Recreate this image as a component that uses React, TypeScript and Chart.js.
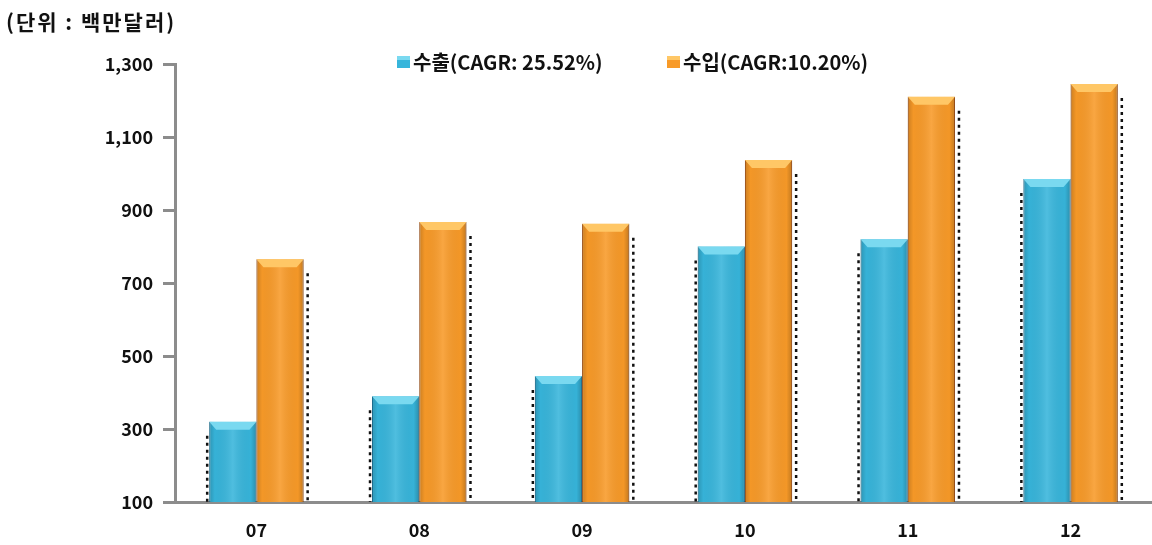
import React, { useEffect, useRef } from "react";
import { Chart, registerables } from "chart.js";

Chart.register(...registerables);

const categories = ["07", "08", "09", "10", "11", "12"];
const exportValues = [320, 390, 445, 800, 820, 985];
const importValues = [765, 867, 862, 1037, 1210, 1245];
const seriesLabels = ["수출(CAGR: 25.52%)", "수입(CAGR:10.20%)"];
const unitLabel = "(단위 : 백만달러)";
const yMin = 100;
const yMax = 1300;
const yStep = 200;

const FONT = "'Noto Sans CJK KR', 'Noto Sans', sans-serif";
const BLUE = "#37b5db";
const BLUE_TOP = "#7ad9f0";
const BLUE_EDGE = "#1d7ea6";
const ORANGE = "#f89a28";
const ORANGE_TOP = "#ffc766";
const ORANGE_EDGE = "#b5560f";
const AXIS = "#8c8c8c";

const decorPlugin = {
  id: "decor",
  afterDatasetsDraw(chart: any) {
    const ctx = chart.ctx;
    const area = chart.chartArea;
    chart.data.datasets.forEach((ds: any, di: number) => {
      const meta = chart.getDatasetMeta(di);
      meta.data.forEach((el: any) => {
        const w = el.width;
        const l = el.x - w / 2;
        const r = el.x + w / 2;
        const top = el.y;
        const base = Math.min(el.base, area.bottom);
        ctx.save();
        const g = ctx.createLinearGradient(l, 0, r, 0);
        g.addColorStop(0, "rgba(0,0,0,0.18)");
        g.addColorStop(0.12, "rgba(0,0,0,0.02)");
        g.addColorStop(0.5, "rgba(255,255,255,0.12)");
        g.addColorStop(0.88, "rgba(0,0,0,0.02)");
        g.addColorStop(1, "rgba(0,0,0,0.22)");
        ctx.fillStyle = g;
        ctx.fillRect(l, top, w, base - top);
        ctx.beginPath();
        ctx.moveTo(l, top);
        ctx.lineTo(r, top);
        ctx.lineTo(r - 7, top + 8);
        ctx.lineTo(l + 7, top + 8);
        ctx.closePath();
        ctx.fillStyle = di === 0 ? BLUE_TOP : ORANGE_TOP;
        ctx.fill();
        ctx.strokeStyle = "#111";
        ctx.lineWidth = 2.5;
        ctx.setLineDash([3, 4]);
        ctx.beginPath();
        if (di === 0) {
          ctx.moveTo(l - 2, top + 14);
          ctx.lineTo(l - 2, base);
        } else {
          ctx.moveTo(r + 4, top + 14);
          ctx.lineTo(r + 4, base);
        }
        ctx.stroke();
        ctx.restore();
      });
    });
  },
  afterDraw(chart: any) {
    const ctx = chart.ctx;
    const area = chart.chartArea;
    ctx.save();
    ctx.fillStyle = "#111";
    ctx.textBaseline = "middle";
    ctx.textAlign = "left";
    ctx.font = `bold 21px ${FONT}`;
    (ctx as any).letterSpacing = "2px";
    ctx.fillText(unitLabel, 6, 22);
    (ctx as any).letterSpacing = "0px";
    const starts = [area.left + 222, area.left + 492];
    const colors = [BLUE, ORANGE];
    const tops = [BLUE_TOP, ORANGE_TOP];
    chart.data.datasets.forEach((ds: any, i: number) => {
      const x = starts[i];
      const cy = 62;
      ctx.fillStyle = colors[i];
      ctx.fillRect(x, cy - 6, 13, 12);
      ctx.fillStyle = tops[i];
      ctx.fillRect(x, cy - 6, 13, 4);
      ctx.fillStyle = "#111";
      ctx.font = `bold 20px ${FONT}`;
      ctx.fillText(ds.label, x + 16, cy);
    });
    ctx.restore();
  },
};

export default function App() {
  const ref = useRef<HTMLCanvasElement | null>(null);
  useEffect(() => {
    if (!ref.current) return;
    const chart = new Chart(ref.current, {
      type: "bar",
      data: {
        labels: categories,
        datasets: [
          {
            label: seriesLabels[0],
            data: exportValues,
            backgroundColor: BLUE,
            borderColor: BLUE_EDGE,
            borderWidth: { left: 1, right: 1, top: 0, bottom: 0 },
            borderSkipped: false,
          },
          {
            label: seriesLabels[1],
            data: importValues,
            backgroundColor: ORANGE,
            borderColor: ORANGE_EDGE,
            borderWidth: { left: 1, right: 1, top: 0, bottom: 0 },
            borderSkipped: false,
          },
        ],
      },
      options: {
        responsive: false,
        animation: false,
        devicePixelRatio: 1,
        layout: { padding: { top: 64, right: 0, left: 0, bottom: 0 } },
        plugins: {
          legend: { display: false },
          title: { display: false },
          tooltip: { enabled: false },
        },
        datasets: {
          bar: { categoryPercentage: 0.58, barPercentage: 1 },
        },
        scales: {
          x: {
            grid: { drawOnChartArea: false, drawTicks: false },
            border: { color: AXIS, width: 3 },
            ticks: {
              color: "#111",
              padding: 17,
              font: { family: FONT, size: 18, weight: "bold" },
            },
            afterFit(scale: any) {
              scale.height = 43;
            },
          },
          y: {
            min: yMin,
            max: yMax,
            grid: {
              drawOnChartArea: false,
              drawTicks: true,
              tickLength: 12,
              color: AXIS,
              lineWidth: 3,
            },
            border: { color: AXIS, width: 3 },
            ticks: {
              stepSize: yStep,
              color: "#111",
              padding: 10,
              font: { family: FONT, size: 18, weight: "bold" },
              callback: (v: any) => Number(v).toLocaleString("en-US"),
            },
            afterFit(scale: any) {
              scale.width = 175;
            },
          },
        },
      },
      plugins: [decorPlugin],
    });
    return () => chart.destroy();
  }, []);
  return (
    <div style={{ position: "fixed", left: 0, top: 0, width: 1152, height: 545, background: "#fff" }}>
      <canvas ref={ref} width={1152} height={545} />
    </div>
  );
}
